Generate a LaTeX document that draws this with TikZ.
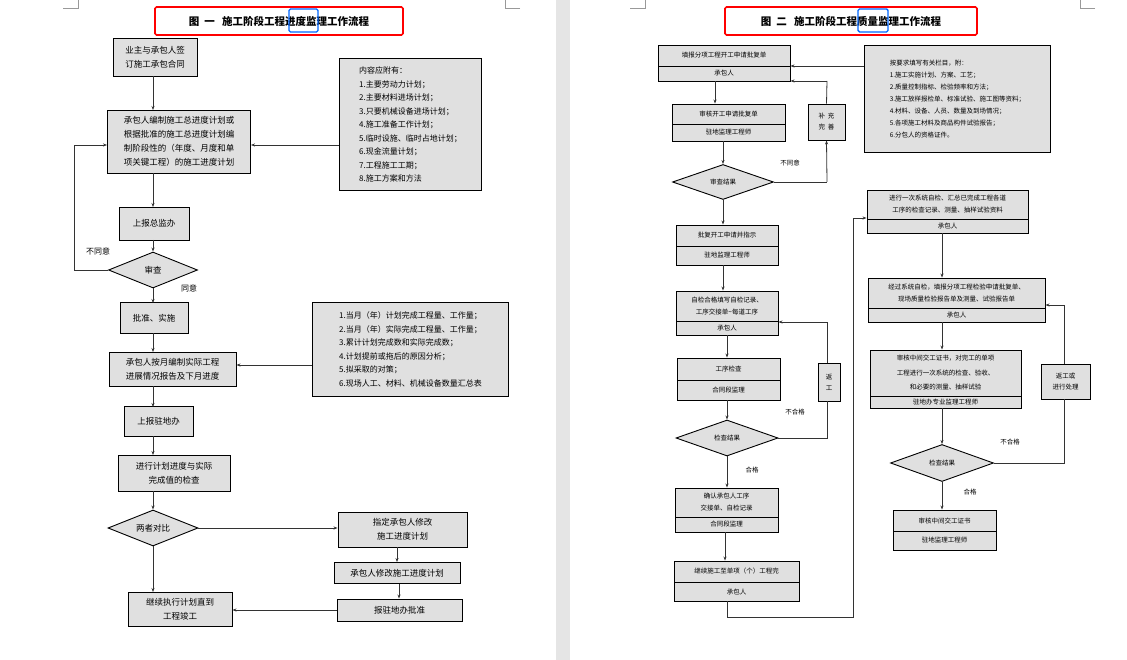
\documentclass[tikz,border=0pt]{standalone}
\usepackage{fontspec}
\setmainfont{Noto Sans CJK SC}
\usetikzlibrary{shapes.geometric,arrows.meta}
\begin{document}
\begin{tikzpicture}[x=1pt,y=-1pt,
  bx/.style={draw=black,line width=0.9pt,fill=black!12,inner sep=0pt,align=center,font=\fontsize{8.5}{14}\selectfont},
  rb/.style={draw=black,line width=0.9pt,fill=black!12,inner sep=0pt,align=center,font=\fontsize{6.5}{11}\selectfont},
  info/.style={draw=black,line width=0.9pt,fill=black!12,inner sep=4pt,align=left,anchor=north west,font=\fontsize{8}{13.5}\selectfont},
  infor/.style={info,font=\fontsize{6.5}{12}\selectfont},
  dia/.style={diamond,draw=black,line width=0.9pt,fill=black!12,inner sep=0pt,aspect=2.6},
  lb/.style={font=\fontsize{8}{10}\selectfont,inner sep=0pt},
  lbr/.style={font=\fontsize{6.5}{8}\selectfont,inner sep=0pt},
  ar/.style={draw=black!80,line width=0.8pt,-{Stealth[length=4pt,width=3pt]}},
  ln/.style={draw=black!80,line width=0.8pt},
  tt/.style={font=\bfseries\fontsize{10.5}{12}\selectfont,inner sep=0pt}]
\useasboundingbox (0,0) rectangle (1127,660);
\fill[white] (0,0) rectangle (1127,660);
\fill[black!10] (556,0) rectangle (570,660);
% crop marks
\draw[black!40,line width=0.4pt] (63,8)--(78,8)--(78,0) (520,8)--(505,8)--(505,0) (630,8)--(645,8)--(645,0) (1095,8)--(1080,8)--(1080,0);
% ---------- titles ----------
\node[tt] (t1) at (279,21) {图\ \ 一\ \ \ 施工阶段工程进度监理工作流程};
\draw[red,line width=1.6pt,rounded corners=1.5pt] (155,7) rectangle (403,35);
\draw[blue!60!cyan,line width=1.4pt,rounded corners=1.5pt] (289,9) rectangle (318,32);
\node[tt] (t2) at (851,21) {图\ \ 二\ \ \ 施工阶段工程质量监理工作流程};
\draw[red,line width=1.6pt,rounded corners=1.5pt] (725,7) rectangle (977,35);
\draw[blue!60!cyan,line width=1.4pt,rounded corners=1.5pt] (858,9) rectangle (888,32);
% ---------- left page ----------
\node[bx,minimum width=84,minimum height=38] (A) at (155,57) {业主与承包人签\\订施工承包合同};
\node[bx,minimum width=143,minimum height=63,align=left] (B) at (179,141.5) {承包人编制施工总进度计划或\\根据批准的施工总进度计划编\\制阶段性的（年度、月度和单\\项关键工程）的施工进度计划};
\node[info,minimum width=142,minimum height=132] (I1) at (339,58) {内容应附有：\\1.主要劳动力计划；\\2.主要材料进场计划；\\3.只要机械设备进场计划；\\4.施工准备工作计划；\\5.临时设施、临时占地计划；\\6.现金流量计划；\\7.工程施工工期；\\8.施工方案和方法};
\node[bx,minimum width=70,minimum height=33] (C) at (154,223.5) {上报总监办};
\node[dia,minimum width=89,minimum height=36] (D1) at (153,270) {};
\node[font=\fontsize{8.5}{10}\selectfont] at (D1) {审查};
\node[bx,minimum width=68,minimum height=31] (D) at (154,318) {批准、实施};
\node[bx,minimum width=127,minimum height=34] (E) at (172.5,369) {承包人按月编制实际工程\\进展情况报告及下月进度};
\node[info,minimum width=196,minimum height=94] (I2) at (312,302) {1.当月（年）计划完成工程量、工作量；\\2.当月（年）实际完成工程量、工作量；\\3.累计计划完成数和实际完成数；\\4.计划提前或拖后的原因分析；\\5.拟采取的对策；\\6.现场人工、材料、机械设备数量汇总表};
\node[bx,minimum width=69,minimum height=30] (F) at (158.5,421.5) {上报驻地办};
\node[bx,minimum width=112,minimum height=36] (G) at (174,473) {进行计划进度与实际\\完成值的检查};
\node[dia,minimum width=90,minimum height=36] (D2) at (153,528) {};
\node[font=\fontsize{8.5}{10}\selectfont] at (D2) {两者对比};
\node[bx,minimum width=129,minimum height=35] (H) at (402.5,529.5) {指定承包人修改\\施工进度计划};
\node[bx,minimum width=126,minimum height=21] (Ii) at (397,573) {承包人修改施工进度计划};
\node[bx,minimum width=125,minimum height=22] (J) at (399.5,610) {报驻地办批准};
\node[bx,minimum width=104,minimum height=34] (K) at (180,609) {继续执行计划直到\\工程竣工};
\draw[ar] (153,76) -- (153,110);
\draw[ar] (I1.west |- 0,145) -- (B.east |- 0,145);
\draw[ar] (153,173) -- (153,207);
\draw[ar] (153,240) -- (D1.north);
\draw[ln] (D1.west) -- (74,270) -- (74,145);
\draw[ar] (74,145) -- (B.west |- 0,145);
\draw[ar] (D1.south) -- (153,303);
\draw[ar] (153,333) -- (153,352);
\draw[ar] (I2.west |- 0,365) -- (E.east |- 0,365);
\draw[ar] (153,386) -- (153,407);
\draw[ar] (153,436) -- (153,455);
\draw[ar] (153,491) -- (D2.north);
\draw[ar] (D2.east) -- (H.west |- D2.east);
\draw[ar] (H.south -| 397,0) -- (Ii.north);
\draw[ar] (Ii.south -| 399,0) -- (J.north -| 399,0);
\draw[ar] (D2.south) -- (153,592);
\draw[ar] (J.west) -- (K.east |- J.west);
\node[lb] at (98,251) {不同意};
\node[lb] at (189,288) {同意};
% ---------- right page ----------
\node[rb,minimum width=132,minimum height=36] (R1) at (724,63) {};
\node[infor,minimum width=186,minimum height=107] (IR) at (864,45) {按要求填写有关栏目，附：\\1.施工实施计划、方案、工艺；\\2.质量控制指标、检验频率和方法；\\3.施工放样报检单、标准试验、施工图等资料；\\4.材料、设备、人员、数量及到场情况；\\5.各项施工材料及商品构件试验报告；\\6.分包人的资格证件。};
\node[rb,minimum width=113,minimum height=37] (R2) at (728.5,122.5) {};
\node[rb,minimum width=37,minimum height=36] (S1) at (826.5,122) {补\ \ 充\\完\ \ 善};
\node[dia,minimum width=101,minimum height=35] (RD1) at (723,182) {};
\node[font=\fontsize{6.5}{8}\selectfont] at (RD1) {审查结果};
\node[rb,minimum width=102,minimum height=40] (R3) at (727,245) {};
\node[rb,minimum width=102,minimum height=44] (R4) at (727,313) {};
\node[rb,minimum width=103,minimum height=42] (R5) at (728.5,379) {};
\node[rb,minimum width=22,minimum height=38] (S2) at (829,382) {返\\工};
\node[dia,minimum width=102,minimum height=36] (RD2) at (727,438) {};
\node[font=\fontsize{6.5}{8}\selectfont] at (RD2) {检查结果};
\node[rb,minimum width=103,minimum height=44] (R6) at (726.5,510) {};
\node[rb,minimum width=125,minimum height=40] (R7) at (736.5,581) {};
\node[rb,minimum width=161,minimum height=43] (R8) at (947.5,211.5) {};
\node[rb,minimum width=177,minimum height=44] (R9) at (956.5,300) {};
\node[rb,minimum width=151,minimum height=58] (R10) at (945.5,379) {};
\node[rb,minimum width=49,minimum height=35] (S3) at (1065.5,381.5) {返工或\\进行处理};
\node[dia,minimum width=103,minimum height=37] (RD3) at (942,463) {};
\node[font=\fontsize{6.5}{8}\selectfont] at (RD3) {检查结果};
\node[rb,minimum width=103,minimum height=40] (R11) at (944.5,530) {};
% dividers
\draw[line width=0.8pt] (658,66)--(790,66) (672,124)--(785,124) (676,246)--(778,246) (676,321)--(778,321) (677,380)--(780,380) (675,517)--(778,517) (674,582)--(799,582) (867,219)--(1028,219) (868,308)--(1045,308) (870,396)--(1021,396) (893,531)--(996,531);
% texts in split boxes
\begin{scope}[every node/.style={font=\fontsize{6.5}{12}\selectfont,align=center,inner sep=0pt}]
\node at (724,55.5) {填报分项工程开工申请批复单};
\node at (724,73.5) {承包人};
\node at (728.5,114) {审核开工申请批复单};
\node at (728.5,132.5) {驻地监理工程师};
\node at (727,235.5) {批复开工申请并指示};
\node at (727,255.5) {驻地监理工程师};
\node at (727,306) {自检合格填写自检记录、\\工序交接单\textasciitilde 每道工序};
\node at (727,328) {承包人};
\node at (728.5,369) {工序检查};
\node at (728.5,390) {合同段监理};
\node at (726.5,502.5) {确认承包人工序\\交接单、自检记录};
\node at (726.5,524.5) {合同段监理};
\node at (736.5,571.5) {继续施工至单项（个）工程完};
\node at (736.5,591.5) {承包人};
\node at (947.5,204.5) {进行一次系统自检、汇总已完成工程各道\\工序的检查记录、测量、抽样试验资料};
\node at (947.5,226) {承包人};
\node at (956.5,293) {经过系统自检，填报分项工程检验申请批复单、\\现场质量检验报告单及测量、试验报告单};
\node at (956.5,315) {承包人};
\node[font=\fontsize{6.5}{14.5}\selectfont] at (945.5,373) {审核中间交工证书，对完工的单项\\工程进行一次系统的检查、验收、\\和必要的测量、抽样试验};
\node at (945.5,402) {驻地办专业监理工程师};
\node at (944.5,521) {审核中间交工证书};
\node at (944.5,540.5) {驻地监理工程师};
\end{scope}
% right connectors
\draw[ar] (IR.west |- 0,66) -- (R1.east |- 0,66);
\draw[ar] (R1.south -| 715,0) -- (R2.north -| 715,0);
\draw[ar] (R2.south -| 723,0) -- (RD1.north);
\draw[ln] (RD1.east) -- (827,182);
\draw[ar] (827,182) -- (S1.south);
\draw[ln] (S1.north) -- (827,81);
\draw[ar] (827,81) -- (R1.east |- 0,81);
\draw[ar] (RD1.south) -- (R3.north -| 723,0);
\draw[ar] (R3.south -| 723,0) -- (R4.north -| 723,0);
\draw[ar] (R4.south -| 727,0) -- (R5.north -| 727,0);
\draw[ar] (R5.south -| 727,0) -- (RD2.north);
\draw[ln] (RD2.east) -- (827,438) -- (S2.south -| 827,0);
\draw[ln] (S2.north -| 827,0) -- (827,322);
\draw[ar] (827,322) -- (R4.east |- 0,322);
\draw[ar] (RD2.south) -- (R6.north -| 727,0);
\draw[ar] (R6.south -| 725,0) -- (R7.north -| 725,0);
\draw[ln] (R7.south -| 727,0) -- (727,617) -- (853,617) -- (853,218);
\draw[ar] (853,218) -- (R8.west |- 0,218);
\draw[ar] (R8.south -| 942,0) -- (R9.north -| 942,0);
\draw[ar] (R9.south -| 942,0) -- (R10.north -| 942,0);
\draw[ar] (R10.south -| 942,0) -- (RD3.north);
\draw[ln] (RD3.east) -- (1064,463) -- (S3.south -| 1064,0);
\draw[ln] (S3.north -| 1064,0) -- (1064,305);
\draw[ar] (1064,305) -- (R9.east |- 0,305);
\draw[ar] (RD3.south) -- (R11.north -| 942,0);
\node[lbr] at (790,163) {不同意};
\node[lbr] at (795,412) {不合格};
\node[lbr] at (752,470) {合格};
\node[lbr] at (1010,442) {不合格};
\node[lbr] at (970,492) {合格};
\end{tikzpicture}
\end{document}
